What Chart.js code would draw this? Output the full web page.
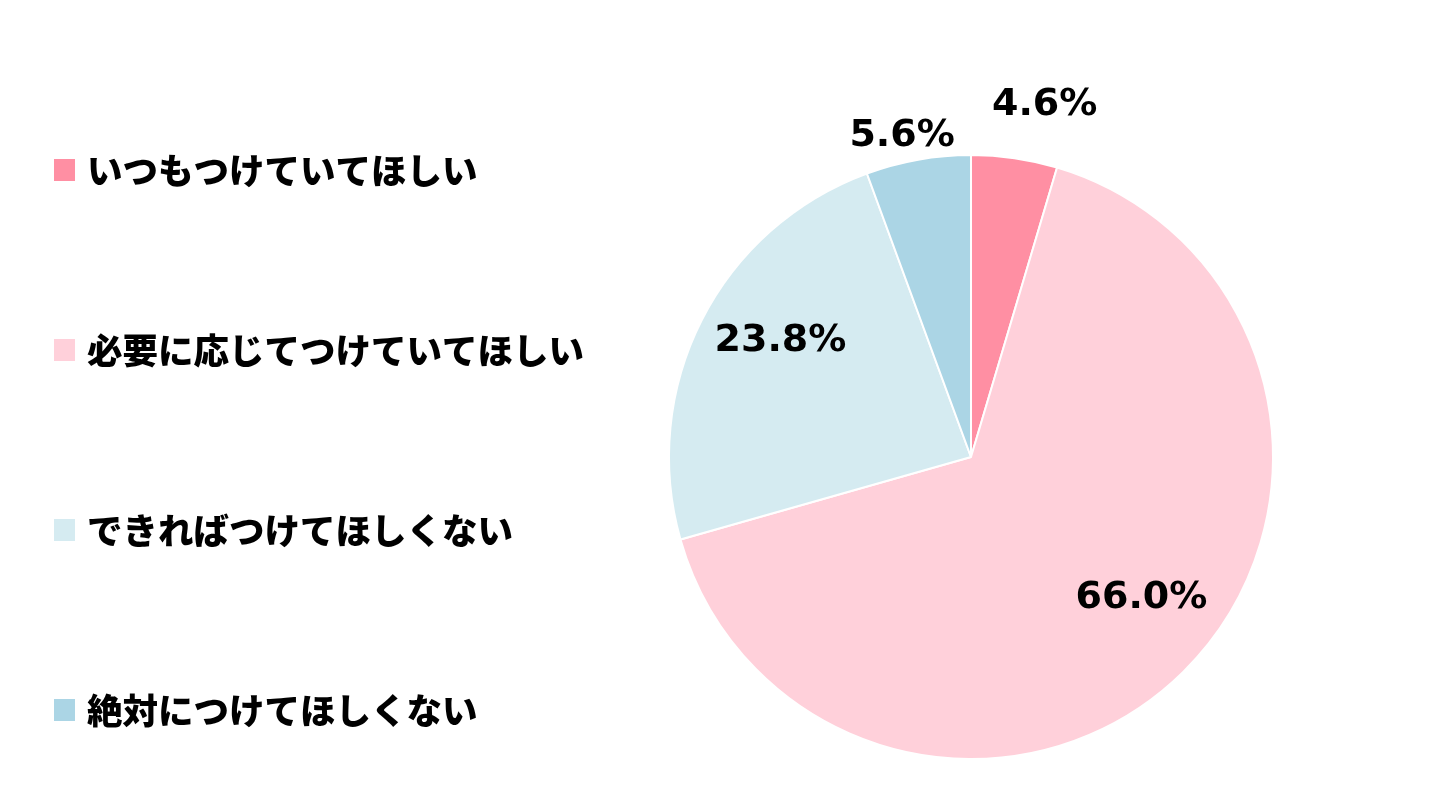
<!DOCTYPE html>
<html><head><meta charset="utf-8">
<script src="https://cdn.jsdelivr.net/npm/chart.js@4.4.1/dist/chart.umd.min.js"></script>
<style>html,body{margin:0;padding:0;background:#fff;}#wrap{width:1456px;height:806px;position:relative;}</style>
</head><body><div id="wrap"><canvas id="c" width="1456" height="806"></canvas></div>
<script>
const categories = ["いつもつけていてほしい","必要に応じてつけていてほしい","できればつけてほしくない","絶対につけてほしくない"];
const values = [4.6, 66.0, 23.8, 5.6];
const valueLabels = ["4.6%","66.0%","23.8%","5.6%"];
const colors = ["#FF8FA3","#FFD0DA","#D5EBF1","#ABD5E5"];

// label placement: radial factor and angle nudge (degrees) per slice
const labelPlace = [{r:1.195,a:3.5},{r:0.73,a:-6},{r:0.74,a:4.5},{r:1.09,a:-2}];

const legendPlugin = {
  id:'sideLegend',
  afterDraw(chart){
    const ctx = chart.ctx;
    const ds = chart.data.datasets[0];
    ctx.save();
    chart.data.labels.forEach((lab,i)=>{
      const cy = 170 + i*180;
      ctx.fillStyle = ds.backgroundColor[i];
      ctx.fillRect(54, cy-11, 21, 22);
      ctx.fillStyle = '#000';
      ctx.font = '900 35.5px "Noto Sans CJK JP"';
      ctx.textBaseline = 'middle';
      ctx.textAlign = 'left';
      ctx.fillText(lab, 87, cy+1);
    });
    ctx.restore();
  }
};

const valuePlugin = {
  id:'valueLabels',
  afterDatasetsDraw(chart){
    const ctx = chart.ctx;
    const meta = chart.getDatasetMeta(0);
    ctx.save();
    ctx.fillStyle = '#000';
    ctx.font = 'bold 38px "DejaVu Sans"';
    ctx.textAlign = 'center';
    ctx.textBaseline = 'middle';
    meta.data.forEach((arc,i)=>{
      const p = arc.getProps(['x','y','startAngle','endAngle','outerRadius']);
      const mid = (p.startAngle+p.endAngle)/2 + labelPlace[i].a*Math.PI/180;
      const r = p.outerRadius*labelPlace[i].r;
      ctx.fillText(valueLabels[i], p.x+Math.cos(mid)*r, p.y+Math.sin(mid)*r + 1);
    });
    ctx.restore();
  }
};

new Chart(document.getElementById('c'), {
  type:'pie',
  data:{labels:categories, datasets:[{data:values, backgroundColor:colors, borderColor:'#fff', borderWidth:2}]},
  options:{
    responsive:false, animation:false,
    layout:{padding:{left:668, right:182, top:154, bottom:46}},
    plugins:{legend:{display:false}, tooltip:{enabled:false}}
  },
  plugins:[legendPlugin, valuePlugin]
});
</script></body></html>
